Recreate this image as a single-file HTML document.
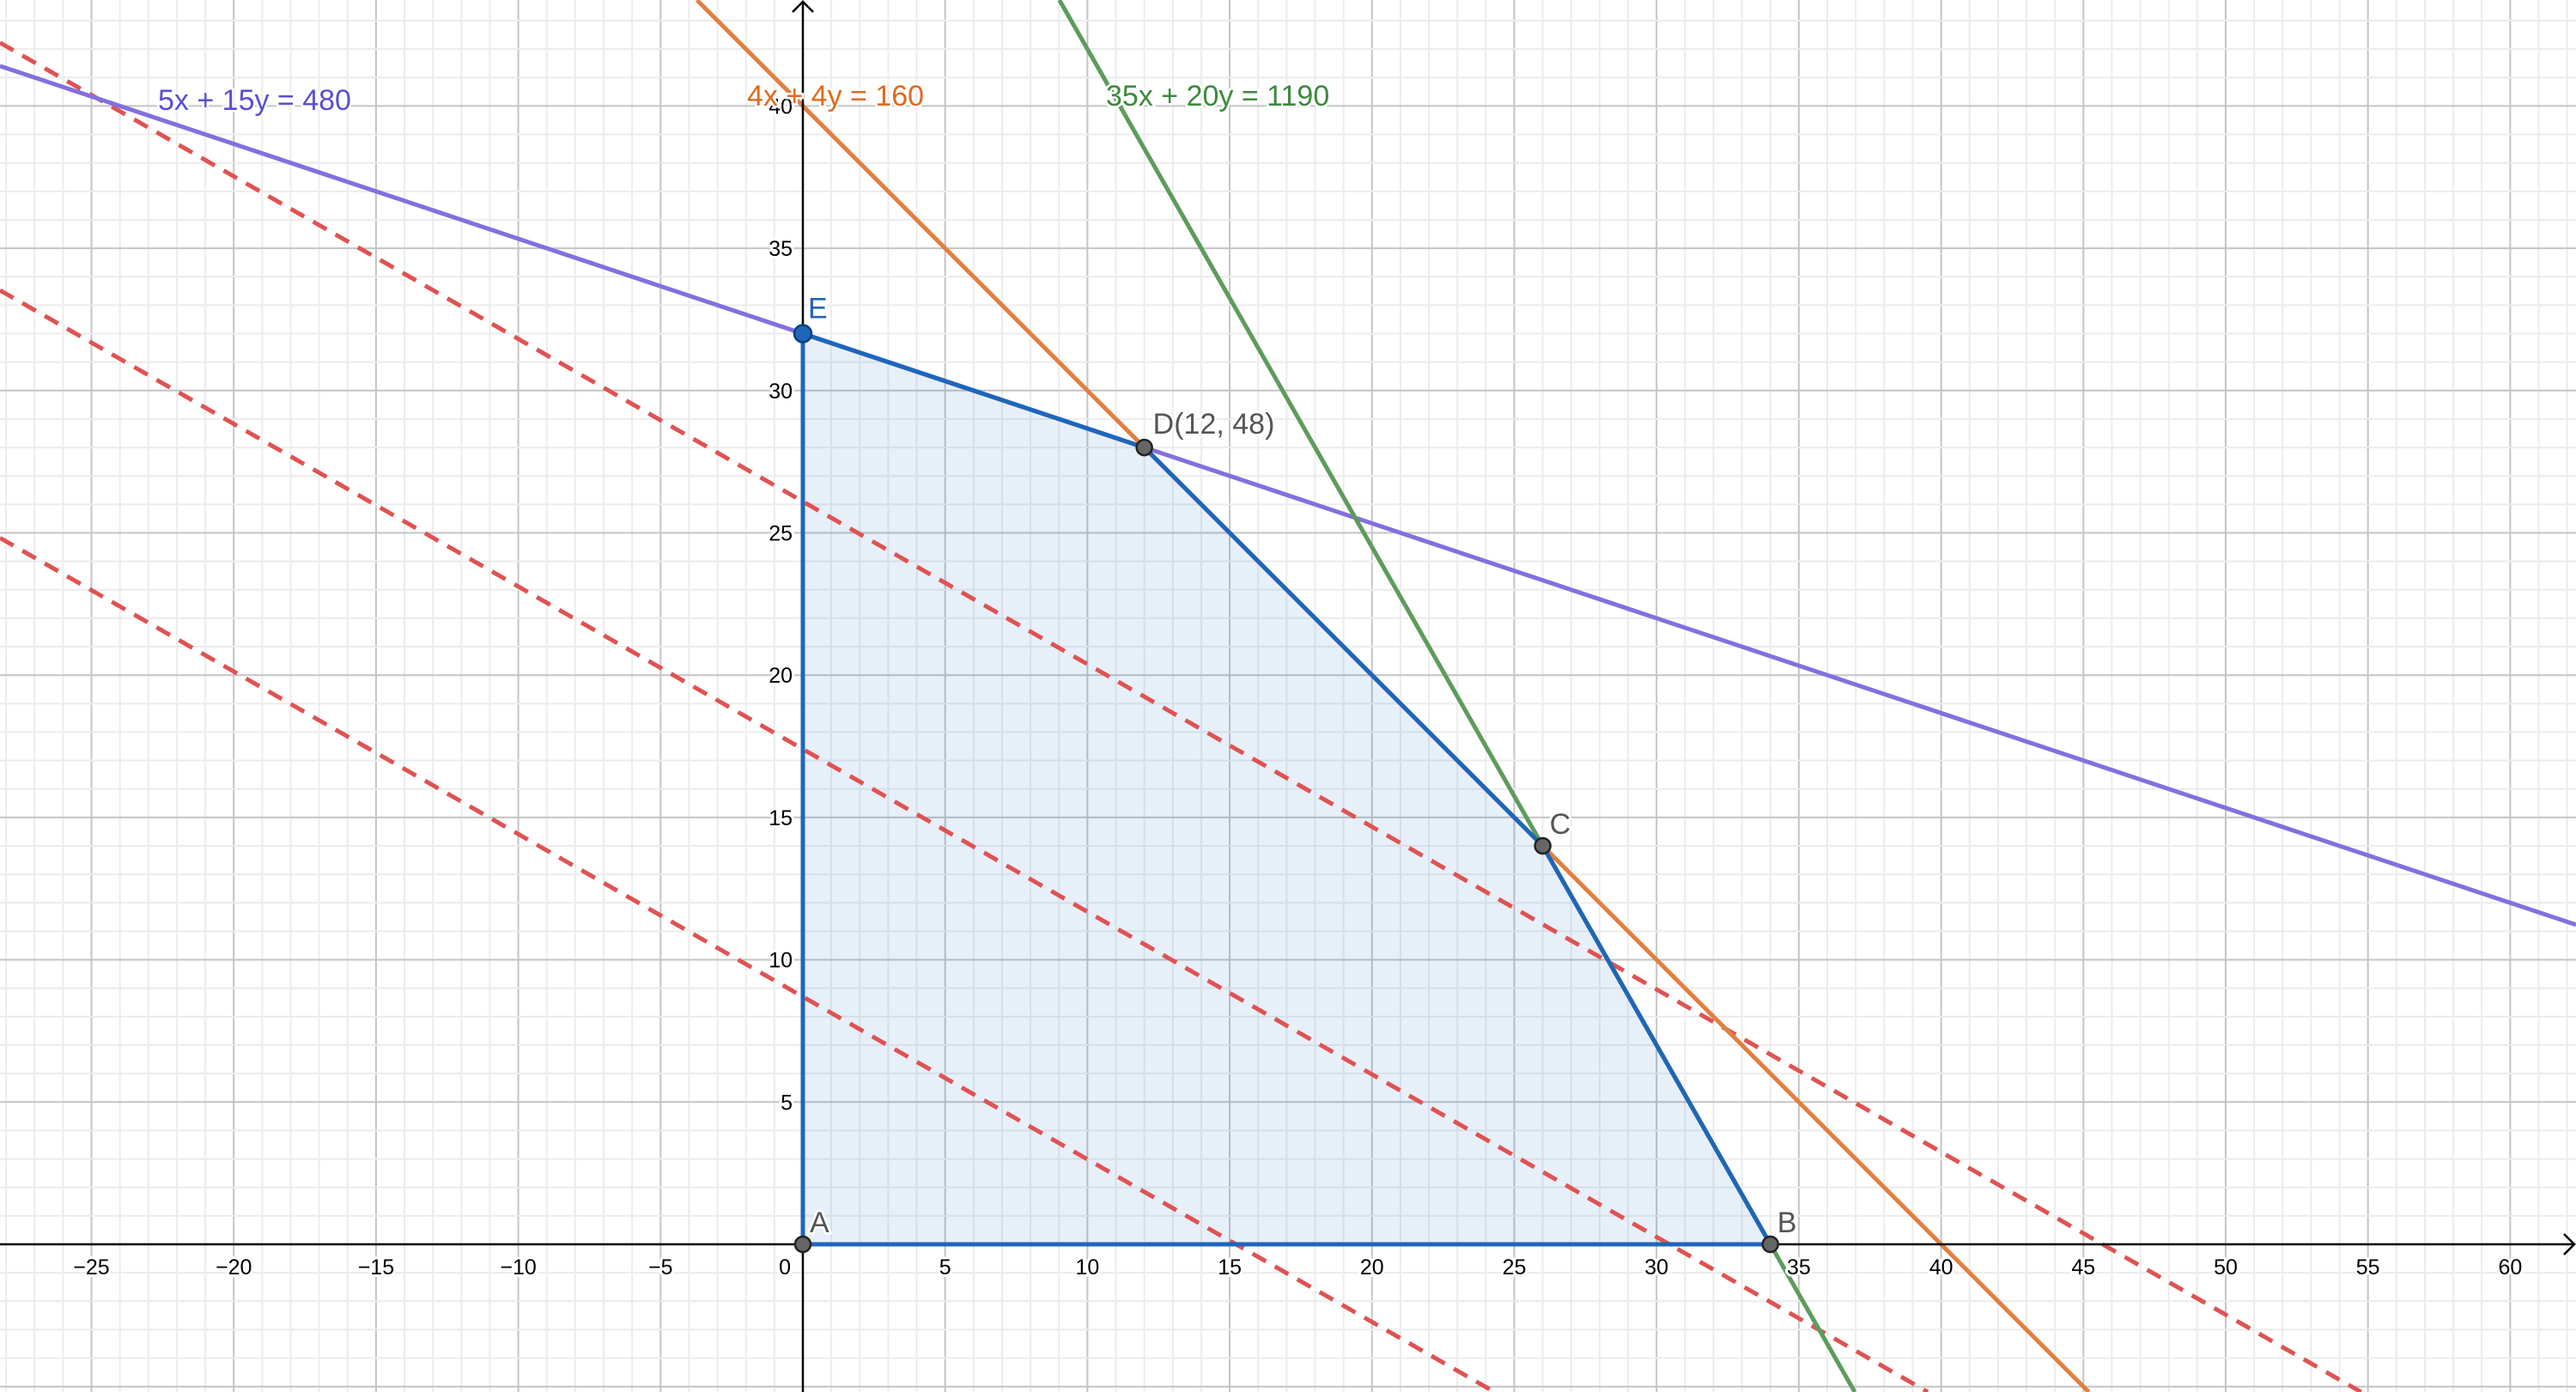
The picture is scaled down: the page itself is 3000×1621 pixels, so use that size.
<!DOCTYPE html>
<html><head><meta charset="utf-8"><style>
html,body{margin:0;padding:0;background:#fff;width:3000px;height:1621px;overflow:hidden;}
svg{display:block;font-family:"Liberation Sans",sans-serif;}
.tk{font-size:25px;fill:#000;stroke:#fff;stroke-width:6px;paint-order:stroke;stroke-linejoin:round;}
</style></head><body>
<svg id="chart" width="3000" height="1621" viewBox="0 0 3000 1621" xmlns="http://www.w3.org/2000/svg">
<g id="grid"></g>
<g id="region"></g>
<g id="lines"></g>
<g id="axes"></g>
<g id="pts"></g>
<g id="labels"></g>
</svg>
<script>
// data
const constraintNames = ['5x + 15y = 480', '4x + 4y = 160', '35x + 20y = 1190'];
const constraintA = [5, 4, 35];
const constraintB = [15, 4, 20];
const constraintC = [480, 160, 1190];
const constraintColors = ['#8470dc', '#e08040', '#5c9c5c'];
const labelColors = ['#5a4ed6', '#e06a1e', '#3c8a3c'];
const vertexNames = ['A', 'B', 'C', 'D(12, 48)', 'E'];
const vertexX = [0, 34, 26, 12, 0];
const vertexY = [0, 0, 14, 28, 32];
const objSlope = [-4/7];
const objIntercepts = [8.7, 17.4, 26.1];
const xTicks = [-25,-20,-15,-10,-5,5,10,15,20,25,30,35,40,45,50,55,60];
const yTicks = [5,10,15,20,25,30,35,40];

const W=3000,H=1621,OX=935,OY=1449,U=33.14;
const sx=x=>OX+x*U, sy=y=>OY-y*U;
const xmin=(0-OX)/U, xmax=(W-OX)/U, ymax=OY/U, ymin=(OY-H)/U;
const NS='http://www.w3.org/2000/svg';
function mk(tag,attrs,parent){const e=document.createElementNS(NS,tag);for(const k in attrs)e.setAttribute(k,attrs[k]);parent.appendChild(e);return e;}
// clip line y = m x + b to viewport
function clipLine(m,b){
  let x1=xmin,x2=xmax;
  const xa=(ymax-b)/m, xb=(ymin-b)/m;
  const lo=Math.min(xa,xb), hi=Math.max(xa,xb);
  x1=Math.max(x1,lo); x2=Math.min(x2,hi);
  return [sx(x1),sy(m*x1+b),sx(x2),sy(m*x2+b)];
}

const grid=document.getElementById('grid');
for(let i=Math.ceil(xmin);i<=xmax;i++){
  const l=mk('line',{x1:sx(i),x2:sx(i),y1:0,y2:H,stroke:i%5===0?'#c4c4c4':'#ececec','stroke-width':2},grid);
  
  
}
for(let j=Math.ceil(ymin);j<=ymax;j++){
  const l=mk('line',{x1:0,x2:W,y1:sy(j),y2:sy(j),stroke:j%5===0?'#c4c4c4':'#ececec','stroke-width':2},grid);
  
  
}

// feasible region
const region=document.getElementById('region');
const pstr=vertexX.map((x,i)=>sx(x)+','+sy(vertexY[i])).join(' ');
const poly=mk('polygon',{points:pstr,fill:'rgba(21,101,192,0.1)',stroke:'#1f66b8','stroke-width':5,'stroke-linejoin':'round'},region);



// objective dashed lines
const lines=document.getElementById('lines');
objIntercepts.forEach(b=>{
  const c=clipLine(objSlope[0],b);
  const l=mk('line',{x1:c[0],y1:c[1],x2:c[2],y2:c[3],stroke:'#e05252','stroke-width':5,'stroke-dasharray':'18 12'},lines);
  
  
});
// constraint lines
constraintA.forEach((a,i)=>{
  const b=constraintB[i],c=constraintC[i];
  const p=clipLine(-a/b,c/b);
  const l=mk('line',{x1:p[0],y1:p[1],x2:p[2],y2:p[3],stroke:constraintColors[i],'stroke-width':5},lines);
  
  
});
// axes
const axes=document.getElementById('axes');
const xa=mk('line',{x1:0,x2:W-2,y1:OY,y2:OY,stroke:'#000','stroke-width':2.5},axes);


mk('polyline',{points:`${W-14},${OY-12} ${W-2},${OY} ${W-14},${OY+12}`,fill:'none',stroke:'#000','stroke-width':2.5},axes);
const ya=mk('line',{x1:OX,x2:OX,y1:2,y2:H,stroke:'#000','stroke-width':2.5},axes);


mk('polyline',{points:`${OX-12},14 ${OX},2 ${OX+12},14`,fill:'none',stroke:'#000','stroke-width':2.5},axes);
const edge=mk('polygon',{points:pstr,fill:'none',stroke:'#1f66b8','stroke-width':5,'stroke-linejoin':'round'},axes);


xTicks.forEach(v=>{
  const t=mk('text',{x:sx(v),y:OY+35,'text-anchor':'middle',class:'tk'},axes);
  t.textContent=v<0?'\u2212'+(-v):String(v);
  
  
});
yTicks.forEach(v=>{
  const t=mk('text',{x:OX-12,y:sy(v)+9,'text-anchor':'end',class:'tk'},axes);
  t.textContent=String(v);
  
  
});
const z=mk('text',{x:OX-14,y:OY+35,'text-anchor':'end',class:'tk'},axes);
z.textContent='0';



// vertices
const pts=document.getElementById('pts');
const lab=document.getElementById('labels');
const offs=[[8,-14],[8,-14],[8,-14],[10,-16],[6,-18]];
vertexX.forEach((x,i)=>{
  const isE=vertexNames[i]==='E';
  const c=mk('circle',{cx:sx(x),cy:sy(vertexY[i]),r:isE?10:9,fill:isE?'#1f66b8':'#666',stroke:isE?'#0d3f7a':'#222','stroke-width':2.5},pts);
  
  
  const t=mk('text',{x:sx(x)+offs[i][0],y:sy(vertexY[i])+offs[i][1],'font-size':34,fill:isE?'#1f66b8':'#555',stroke:'#fff','stroke-width':5,'paint-order':'stroke'},lab);
  t.textContent=vertexNames[i];
  
  
});
// equation labels
const eqPos=[[184,128],[870,123],[1288,123]];
constraintNames.forEach((n,i)=>{
  const t=mk('text',{x:eqPos[i][0],y:eqPos[i][1],'font-size':34,fill:labelColors[i],stroke:'#fff','stroke-width':5,'paint-order':'stroke'},lab);
  t.textContent=n;
  
  
});
</script>
</body></html>
